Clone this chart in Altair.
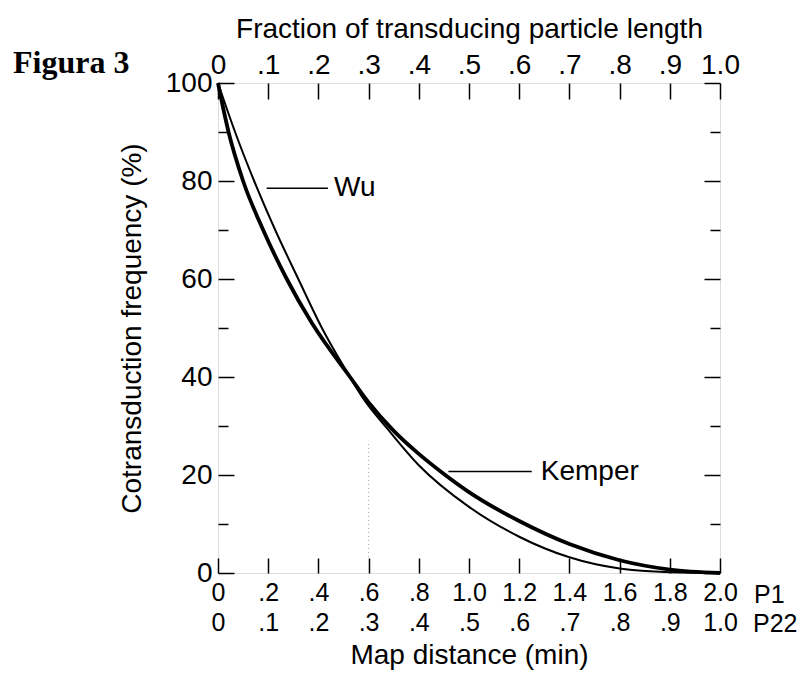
import altair as alt
import pandas as pd

# ---- data (x = fraction of transducing particle length, y = %) ----
frac_wu = [0, 0.034, 0.072, 0.114, 0.16, 0.207, 0.263, 0.29, 0.337, 0.4, 0.5, 0.6, 0.7, 0.8, 0.9, 1.0]
val_wu = [100, 90, 80, 70, 60, 50, 40, 35.5, 29.5, 22, 13.5, 7.4, 3.2, 0.9, 0.15, 0]

frac_kemper = [0, 0.021, 0.05, 0.09, 0.137, 0.187, 0.263, 0.3, 0.35, 0.4, 0.45, 0.5, 0.6, 0.7, 0.8, 0.9, 1.0]
val_kemper = [100, 90, 80, 70, 60, 51, 40, 34.8, 29, 24.3, 20.2, 16.5, 10.6, 5.9, 2.6, 0.7, 0]

x_ticks = [0, 0.1, 0.2, 0.3, 0.4, 0.5, 0.6, 0.7, 0.8, 0.9, 1.0]
y_major = [0, 20, 40, 60, 80, 100]
y_minor = [10, 30, 50, 70, 90]

labels_df = pd.DataFrame({"x": [0.231, 0.643], "y": [78.5, 20.6], "text": ["Wu", "Kemper"]})
leaders_df = pd.DataFrame({"x": [0.097, 0.459], "x2": [0.219, 0.625], "y": [78.5, 20.7]})
guide_df = pd.DataFrame({"x": [0.3], "y": [0], "y2": [27]})

wu_df = pd.DataFrame({"frac": frac_wu, "val": val_wu})
ke_df = pd.DataFrame({"frac": frac_kemper, "val": val_kemper})

FONT = "Liberation Sans"
xs = alt.Scale(domain=[0, 1], nice=False, zero=False)
ys = alt.Scale(domain=[0, 100], nice=False, zero=False)

common = dict(domain=False, grid=False, tickColor="black", tickWidth=1.5,
              labelColor="black", labelFont=FONT,
              titleFont=FONT, titleFontSize=28, titleFontWeight="normal",
              titleColor="black", labelFlush=False, labelOverlap=False)

top_axis = alt.Axis(orient="top", values=x_ticks, tickSize=16, offset=-16, labelPadding=4,
                    labelFontSize=28,
                    labelExpr="datum.value == 0 ? '0' : (datum.value >= 0.999 ? '1.0' : replace(format(datum.value, '.1f'), '0.', '.'))",
                    title="Fraction of transducing particle length", titlePadding=8, **common)

# P1 row (with the inward ticks)
bottom_p1 = alt.Axis(orient="bottom", values=x_ticks, tickSize=15, offset=-15, labelPadding=7,
                     labelFontSize=25,
                     labelExpr="datum.value == 0 ? '0' : (datum.value * 2 < 0.999 ? replace(format(datum.value * 2, '.1f'), '0.', '.') : format(datum.value * 2, '.1f'))",
                     title=None, **common)
# P22 row (labels only) with the axis title
bottom_p22 = alt.Axis(orient="bottom", values=x_ticks, ticks=False, tickSize=0, offset=0,
                      labelPadding=37, labelFontSize=25,
                      labelExpr="datum.value == 0 ? '0' : (datum.value < 0.999 ? replace(format(datum.value, '.1f'), '0.', '.') : '1.0')",
                      title="Map distance (min)", titlePadding=6, **common)

left_axis = alt.Axis(orient="left", values=y_major, tickSize=16, offset=-16, labelPadding=6,
                     labelFontSize=28,
                     title="Cotransduction frequency (%)", titlePadding=19, **common)
left_minor = alt.Axis(orient="left", values=y_minor, tickSize=10, offset=-10, labels=False,
                      title=None, **common)
right_axis = alt.Axis(orient="right", values=y_major, tickSize=16, offset=-16, labels=False,
                      title=None, **common)
right_minor = alt.Axis(orient="right", values=y_minor, tickSize=10, offset=-10, labels=False,
                       title=None, **common)

wu = alt.Chart(wu_df).mark_line(color="black", strokeWidth=2, interpolate="monotone").encode(
    x=alt.X("frac:Q", scale=xs, axis=top_axis),
    y=alt.Y("val:Q", scale=ys, axis=left_axis),
)
kemper = alt.Chart(ke_df).mark_line(color="black", strokeWidth=3.8, interpolate="monotone").encode(
    x=alt.X("frac:Q", scale=xs, axis=bottom_p1),
    y=alt.Y("val:Q", scale=ys, axis=right_axis),
)
leaders = alt.Chart(leaders_df).mark_rule(color="black", strokeWidth=1.5).encode(
    x=alt.X("x:Q", scale=xs, axis=None),
    x2="x2:Q",
    y=alt.Y("y:Q", scale=ys, axis=left_minor),
)
guide = alt.Chart(guide_df).mark_rule(color="#aaaaaa", strokeWidth=1, strokeDash=[1, 3]).encode(
    x=alt.X("x:Q", scale=xs, axis=bottom_p22),
    y=alt.Y("y:Q", scale=ys, axis=right_minor),
    y2="y2:Q",
)
texts = alt.Chart(labels_df).mark_text(align="left", baseline="middle", font=FONT,
                                       fontSize=28, color="black").encode(
    x=alt.X("x:Q", scale=xs, axis=None),
    y=alt.Y("y:Q", scale=ys, axis=None),
    text="text:N",
)
p1 = alt.Chart(pd.DataFrame({"t": ["P1"]})).mark_text(
    align="left", baseline="middle", font=FONT, fontSize=25, color="black", dx=34, dy=22
).encode(x=alt.datum(1.0, scale=xs, axis=None), y=alt.datum(0, scale=ys, axis=None), text="t:N")
p22 = alt.Chart(pd.DataFrame({"t": ["P22"]})).mark_text(
    align="left", baseline="middle", font=FONT, fontSize=25, color="black", dx=33, dy=51
).encode(x=alt.datum(1.0, scale=xs, axis=None), y=alt.datum(0, scale=ys, axis=None), text="t:N")
fig = alt.Chart(pd.DataFrame({"t": ["Figura 3"]})).mark_text(
    align="left", baseline="middle", font="Liberation Serif", fontWeight="bold",
    fontSize=32, color="black"
).encode(x=alt.value(-205), y=alt.value(-20), text="t:N")

chart = alt.layer(wu, kemper, leaders, guide, texts, p1, p22, fig).resolve_axis(
    x="independent", y="independent"
).properties(
    width=502, height=490,
    padding={"left": 210, "top": 75, "right": 78, "bottom": 100},
    autosize=alt.AutoSizeParams(type="none"),
).configure_view(stroke="black", strokeWidth=1.5).configure(background="white")

chart.save("out.html", embed_options={"renderer": "svg", "actions": False})
